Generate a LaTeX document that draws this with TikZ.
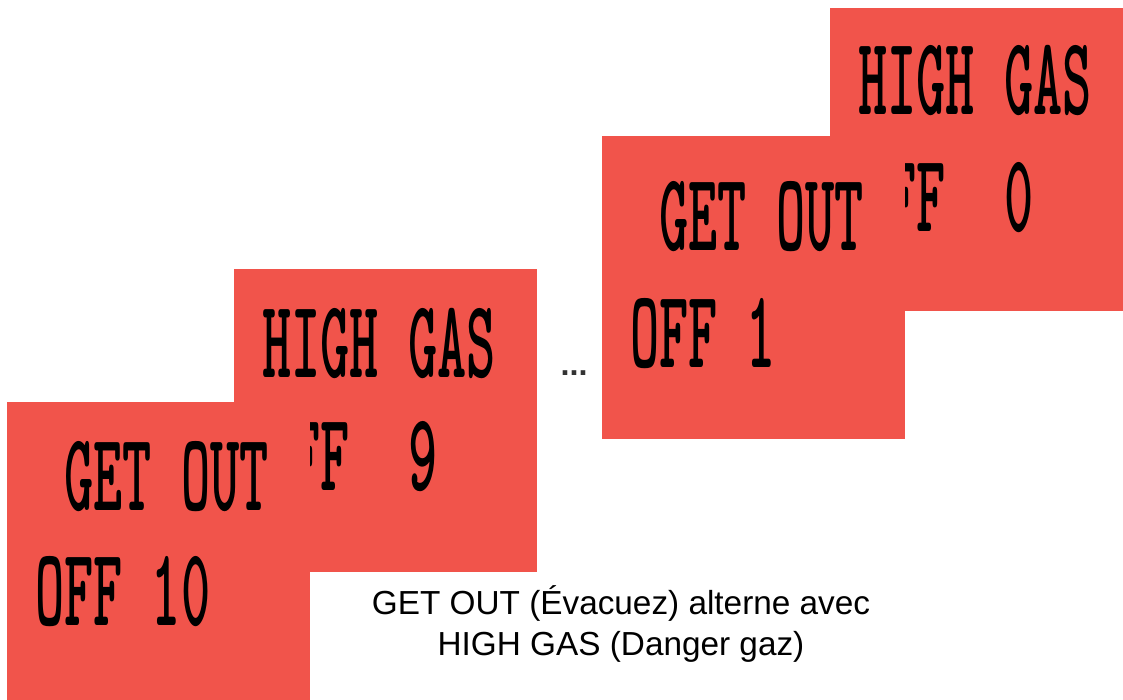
\documentclass[tikz,border=0pt]{standalone}
\usepackage{fontspec}
\setmainfont{Liberation Sans}
\newfontfamily\lcdfont{lmmonolt10-bold.otf}[FakeStretch=0.5]
\definecolor{lcdred}{HTML}{F1544B}
\definecolor{dotgray}{HTML}{333333}
\begin{document}
\begin{tikzpicture}[x=0.025cm,y=-0.025cm,
	lcdbox/.style={rectangle,fill=lcdred,inner sep=0pt,anchor=north west,minimum width=7.575cm,minimum height=7.575cm},
	lcdtext/.style={font=\lcdfont\fontsize{79}{79}\selectfont,inner sep=0pt,anchor=base west},
	caption/.style={font=\fontsize{23.7}{28.5}\selectfont,align=center}
	]
	\clip (0,0) rectangle (1123,699);
	% left pair
	\path
	+(234,269) node[lcdbox] (back1) {}
	+(262,377) node[lcdtext] (back1a) {HIGH GAS}
	+(262,490) node[lcdtext] (back1b) {OFF~~9}
	;
	\path
	+(7,402) node[lcdbox] (front1) {}
	+(35,510) node[lcdtext] (front1a) {~GET OUT}
	+(35,625) node[lcdtext] (front1b) {OFF 10}
	;
	% right pair
	\path
	+(830,8) node[lcdbox] (back2) {}
	+(858,114) node[lcdtext] (back2a) {HIGH GAS}
	+(858,231) node[lcdtext] (back2b) {OFF~~0}
	;
	\path
	+(602,136) node[lcdbox] (front2) {}
	+(630,250) node[lcdtext] (front2a) {~GET OUT}
	+(630,367) node[lcdtext] (front2b) {OFF 1}
	;
	\path
	+(574,375) node[anchor=base,text=dotgray,font=\bfseries\fontsize{23}{23}\selectfont] (dots) {...}
	+(621,624) node[caption] (note) {GET OUT (Évacuez) alterne avec\\HIGH GAS (Danger gaz)}
	;
\end{tikzpicture}
\end{document}
